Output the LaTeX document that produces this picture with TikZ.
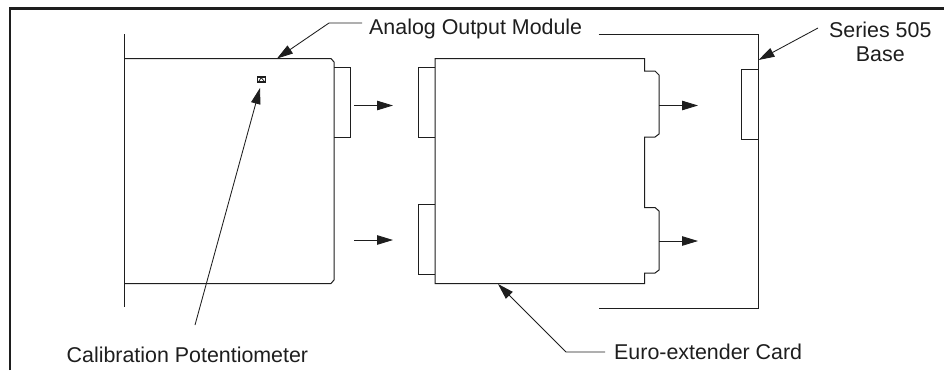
\documentclass[tikz,border=0pt]{standalone}
\usepackage{fontspec}
\setmainfont{Liberation Sans}
\usetikzlibrary{arrows.meta}
\definecolor{ink}{HTML}{1E1E1E}
\tikzset{
  x=1pt,y=-1pt,
  part/.style={draw=ink,line width=1pt,line join=miter},
  leader/.style={draw=ink,line width=0.85pt},
  pointer/.style={leader,-{Triangle[length=16pt,width=9.5pt]}},
  label/.style={inner sep=0pt,text=ink,font=\fontsize{21.4}{24}\selectfont,align=center},
  pot/.style={draw=ink,fill=white,line width=1.3pt,minimum width=8.5pt,minimum height=5pt,inner sep=0pt},
}
\begin{document}
\begin{tikzpicture}
\useasboundingbox (0,0) rectangle (944,370);
\fill[white] (0,0) rectangle (944,370);
% frame
\draw[ink,line width=2.2pt] (10,370) -- (10,8.5) -- (944,8.5);
% analog output module
\draw[part] (124.5,34) -- (124.5,307);
\draw[part] (124.5,58.5) -- (331,58.5) -- (334,62) -- (334,280) -- (331,283.5) -- (124.5,283.5);
\draw[part] (334,67) -- (350.5,67) -- (350.5,137) -- (334,137);
\node[pot] (potbox) at (261.5,79.5) {};
\draw[ink,line width=0.8pt] (259,81) -- (261,78) (261.5,78) -- (264,81);
% euro-extender card
\draw[part] (435,58.5) -- (644.5,58.5) -- (644.5,71) -- (655,71) -- (659,75) -- (659,134) -- (655,137) -- (644.5,137)
  -- (644.5,207.5) -- (655,207.5) -- (659,211) -- (659,270) -- (655,273) -- (644.5,273) -- (644.5,283.5) -- (435,283.5) -- cycle;
\draw[part] (435,67) -- (418,67) -- (418,137) -- (435,137);
\draw[part] (435,204.5) -- (418,204.5) -- (418,274) -- (435,274);
% base
\draw[part] (598.5,34) -- (758.5,34) -- (758.5,308) -- (598.5,308);
\draw[part] (758.5,69) -- (741.5,69) -- (741.5,139) -- (758.5,139);
% motion arrows
\coordinate (a1s) at (354,105.5); \coordinate (a1e) at (393,105.5);
\coordinate (a2s) at (354,240); \coordinate (a2e) at (393,240);
\coordinate (a3s) at (659,105.5); \coordinate (a3e) at (698,105.5);
\coordinate (a4s) at (659,241); \coordinate (a4e) at (698,241);
\draw[pointer] (a1s) -- (a1e);
\draw[pointer] (a2s) -- (a2e);
\draw[pointer] (a3s) -- (a3e);
\draw[pointer] (a4s) -- (a4e);
% labels
\node[label,anchor=base west] (aom) at (369,34.5) {Analog Output Module};
\node[label,anchor=base] (base1) at (880.3,37) {Series 505};
\node[label,anchor=base] (base2) at (880.3,61) {Base};
\node[label,anchor=base west] (cal) at (66.5,362.5) {Calibration Potentiometer};
\node[label,anchor=base west] (euro) at (614,359.5) {Euro-extender Card};
% leaders
\coordinate (aomk) at (329,23); \coordinate (aomt) at (277,58.5);
\coordinate (aoms) at (362,23);
\draw[pointer] (aoms) -- (aomk) -- (aomt);
\coordinate (calt) at (260,88); \coordinate (cals) at (195,325);
\draw[pointer] (cals) -- (calt);
\coordinate (eus) at (605,352); \coordinate (euk) at (566,352); \coordinate (eut) at (498,284);
\draw[pointer] (eus) -- (euk) -- (eut);
\coordinate (bs) at (818,28); \coordinate (bt) at (758.5,60);
\draw[pointer] (bs) -- (bt);
\end{tikzpicture}
\end{document}
